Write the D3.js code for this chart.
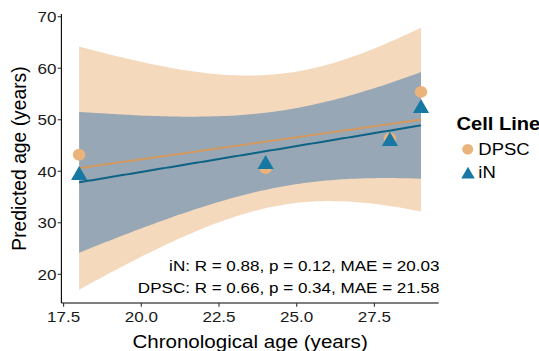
<!DOCTYPE html>
<html><head><meta charset="utf-8">
<script src="https://cdn.jsdelivr.net/npm/d3@7"></script>
<style>body{margin:0;background:#fff}svg{display:block;font-family:"Liberation Sans",Arial,sans-serif}</style>
</head><body><svg id="c" width="539" height="351"></svg>
<script>
const ages = [18, 24, 28, 29];
const dpscPred = [43.2, 40.6, 46.35, 55.4];
const inPred = [39.2, 41.35, 45.8, 52.2];
const xTicks = [17.5, 20.0, 22.5, 25.0, 27.5];
const yTicks = [20, 30, 40, 50, 60, 70];
const seriesNames = ["DPSC", "iN"];
const statsLines = ["iN: R = 0.88, p = 0.12, MAE = 20.03", "DPSC: R = 0.66, p = 0.34, MAE = 21.58"];

const svg = d3.select("#c");
const x = d3.scaleLinear().domain([17.5, 27.5]).range([63.6, 374.4]);
const y = d3.scaleLinear().domain([20, 70]).range([274.3, 16.7]);
const pLeft = 61.4, pRight = 438.7, pTop = 14, pBottom = 303;
const SX = 1.1;

function txt(parent, tx, ty, str, size, anchor, opts = {}) {
  const g = parent.append("g").attr("transform", `translate(${tx},${ty}) scale(${opts.sx || SX},1)`);
  const t = g.append("text").attr("text-anchor", anchor).attr("font-size", size)
    .attr("fill", opts.fill || "#000").text(str);
  if (opts.bold) t.attr("font-weight", "bold");
  if (opts.dy) t.attr("dy", opts.dy);
  return t;
}

// linear model with 95% CI (t, df=2)
function fit(xs, ys) {
  const n = xs.length, xb = d3.mean(xs), yb = d3.mean(ys);
  let sxx = 0, sxy = 0;
  xs.forEach((v, i) => { sxx += (v - xb) ** 2; sxy += (v - xb) * (ys[i] - yb); });
  const b = sxy / sxx, a = yb - b * xb;
  let sse = 0; xs.forEach((v, i) => { sse += (ys[i] - a - b * v) ** 2; });
  const s = Math.sqrt(sse / (n - 2)), t = 4.302653;
  const [lo, hi] = d3.extent(xs);
  return d3.range(80).map(k => {
    const xv = lo + (hi - lo) * k / 79, f = a + b * xv;
    const se = s * Math.sqrt(1 / n + (xv - xb) ** 2 / sxx);
    return { x: xv, y: f, lo: f - t * se, hi: f + t * se };
  });
}
const fD = fit(ages, dpscPred), fN = fit(ages, inPred);
const area = d3.area().x(d => x(d.x)).y0(d => y(d.lo)).y1(d => y(d.hi));
const line = d3.line().x(d => x(d.x)).y(d => y(d.y));

svg.append("path").attr("d", area(fD)).attr("fill", "#F5D9BC");
svg.append("path").attr("d", area(fN)).attr("fill", "#97A7B6");
svg.append("path").attr("d", line(fD)).attr("fill", "none").attr("stroke", "#D3985E").attr("stroke-width", 2);
svg.append("path").attr("d", line(fN)).attr("fill", "none").attr("stroke", "#0E6385").attr("stroke-width", 2);

const triPath = (r) => {
  const tr = 1.555 * r, h = 1.347 * r, yc = 0.778 * r;
  return `M0,${-tr}L${h},${yc}L${-h},${yc}Z`;
};
ages.forEach((a, i) => {
  svg.append("ellipse").attr("cx", x(a)).attr("cy", y(dpscPred[i])).attr("rx", 6.3).attr("ry", 5.9).attr("fill", "#E9B37B");
});
ages.forEach((a, i) => {
  svg.append("path").attr("d", triPath(6)).attr("transform", `translate(${x(a)},${y(inPred[i])})`).attr("fill", "#1779A3");
});

// stats text
statsLines.forEach((t, i) => txt(svg, 439.5, 271 + i * 21.7, t, 15.5, "end"));

// axes
const gx = svg.append("g").attr("transform", `translate(0,${pBottom})`);
gx.append("line").attr("x1", pLeft).attr("x2", pRight).attr("stroke", "#000").attr("stroke-width", 1.1);
xTicks.forEach(t => {
  gx.append("line").attr("x1", x(t)).attr("x2", x(t)).attr("y1", 0).attr("y2", 3.7).attr("stroke", "#333").attr("stroke-width", 1.1);
  txt(gx, x(t), 18.6, t.toFixed(1), 15.5, "middle", { fill: "#1a1a1a" });
});
const gy = svg.append("g").attr("transform", `translate(${pLeft},0)`);
gy.append("line").attr("y1", pTop).attr("y2", pBottom).attr("stroke", "#000").attr("stroke-width", 1.1);
yTicks.forEach(t => {
  gy.append("line").attr("y1", y(t)).attr("y2", y(t)).attr("x1", 0).attr("x2", -3.7).attr("stroke", "#333").attr("stroke-width", 1.1);
  txt(gy, -5, y(t), String(t), 15.5, "end", { fill: "#1a1a1a", dy: "0.36em" });
});
txt(svg, (pLeft + pRight) / 2, 348, "Chronological age (years)", 18.7, "middle");
svg.append("text").attr("transform", `translate(25.5,${(pTop + pBottom) / 2}) rotate(-90)`).attr("text-anchor", "middle")
  .attr("font-size", 19.3).attr("fill", "#000").text("Predicted age (years)");

// legend
txt(svg, 456.5, 130, "Cell Line", 17.5, "start", { bold: true, sx: 1.15 });
svg.append("ellipse").attr("cx", 467.7).attr("cy", 149.3).attr("rx", 5.5).attr("ry", 5.2).attr("fill", "#E9B37B");
svg.append("path").attr("d", triPath(5)).attr("transform", "translate(468,174.5)").attr("fill", "#1779A3");
txt(svg, 478.3, 154.5, seriesNames[0], 16.8, "start");
txt(svg, 478.3, 178, seriesNames[1], 16.8, "start");
</script></body></html>
